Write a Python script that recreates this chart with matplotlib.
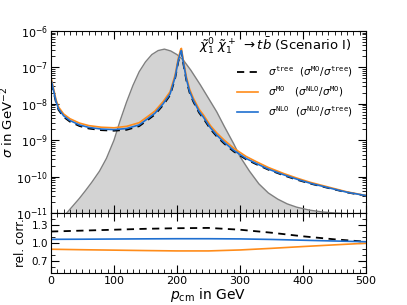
import numpy as np
import matplotlib
matplotlib.use("Agg")
import matplotlib.pyplot as plt
from matplotlib.ticker import MultipleLocator, LogLocator, NullFormatter

# momentum grid for the cross sections (GeV)
p = [1, 4, 8, 12, 20, 30, 45, 60, 80, 100, 120, 140, 155, 165, 178, 189, 197, 202,
     206, 207, 210, 215, 220, 226, 235, 242, 253, 263, 275, 290, 310, 327, 345, 370,
     390, 412, 443, 470, 500]

# log10(sigma / GeV^-2)
log_mo = [-7.35, -7.58, -7.89, -8.09, -8.28, -8.41, -8.53, -8.60, -8.645, -8.66,
          -8.62, -8.52, -8.33, -8.20, -7.94, -7.67, -7.21, -6.75, -6.50, -6.48,
          -6.80, -7.27, -7.60, -7.85, -8.15, -8.31, -8.60, -8.80, -9.00, -9.22,
          -9.45, -9.60, -9.75, -9.92, -10.04, -10.16, -10.30, -10.42, -10.52]
log_nlo = [-7.40, -7.63, -7.94, -8.14, -8.33, -8.46, -8.58, -8.65, -8.695, -8.71,
           -8.68, -8.58, -8.39, -8.26, -8.00, -7.73, -7.27, -6.81, -6.56, -6.54,
           -6.86, -7.33, -7.66, -7.91, -8.21, -8.37, -8.66, -8.86, -9.06, -9.28,
           -9.505, -9.65, -9.795, -9.955, -10.07, -10.185, -10.318, -10.43, -10.522]
log_tree = [-7.43, -7.66, -7.97, -8.17, -8.36, -8.49, -8.61, -8.68, -8.725, -8.74,
            -8.715, -8.615, -8.425, -8.295, -8.035, -7.765, -7.305, -6.845, -6.595, -6.575,
            -6.895, -7.365, -7.695, -7.945, -8.245, -8.405, -8.695, -8.895, -9.095, -9.31,
            -9.53, -9.67, -9.81, -9.97, -10.085, -10.195, -10.325, -10.435, -10.529]

# momentum distribution (grey area)
p_dist = [20, 25, 35, 45, 55, 65, 77, 88, 100, 110, 120, 130, 140, 150, 160, 170, 180,
          190, 200, 210, 222, 237, 250, 263, 275, 290, 300, 315, 330, 345, 360, 375,
          390, 410, 430, 450, 470, 500]
log_dist = [-11.1, -11.0, -10.8, -10.6, -10.38, -10.15, -9.85, -9.5, -9.0, -8.45, -7.95,
            -7.5, -7.12, -6.85, -6.65, -6.54, -6.50, -6.55, -6.65, -6.80, -7.08, -7.48,
            -7.85, -8.22, -8.62, -9.1, -9.45, -9.85, -10.2, -10.45, -10.62, -10.75,
            -10.84, -10.92, -10.97, -11.0, -11.02, -11.03]

# relative corrections
p_rel = [0, 50, 100, 150, 200, 250, 300, 350, 400, 450, 500]
mo_over_tree = [1.19, 1.205, 1.22, 1.235, 1.245, 1.25, 1.22, 1.17, 1.11, 1.06, 1.02]
nlo_over_mo = [0.895, 0.887, 0.88, 0.873, 0.867, 0.867, 0.883, 0.91, 0.94, 0.968, 0.995]
nlo_over_tree = [1.06, 1.062, 1.065, 1.068, 1.07, 1.07, 1.067, 1.058, 1.045, 1.032, 1.02]

orange = '#ff8c1a'
blue = '#1f6fd0'
dash = (0, (4, 3))

fig = plt.figure(figsize=(4.07, 3.05), dpi=100)
ax = fig.add_axes([0.1253, 0.3016, 0.774, 0.597])
ax2 = fig.add_axes([0.1253, 0.105, 0.774, 0.197], sharex=ax)

dist = 10.0 ** np.array(log_dist)
ax.fill_between(p_dist, dist, 1e-12, color='#d3d3d3', lw=0)
ax.plot(p_dist, dist, color='#7f7f7f', lw=1.0)

ax.plot(p, 10.0 ** np.array(log_tree), color='k', ls=dash, lw=1.3,
        label=r'$\sigma^{\mathtt{tree}}$  ($\sigma^{\mathtt{MO}}/\sigma^{\mathtt{tree}}$)')
ax.plot(p, 10.0 ** np.array(log_mo), color=orange, lw=1.2,
        label=r'$\sigma^{\mathtt{MO}}$   ($\sigma^{\mathtt{NLO}}/\sigma^{\mathtt{MO}}$)')
ax.plot(p, 10.0 ** np.array(log_nlo), color=blue, lw=1.2,
        label=r'$\sigma^{\mathtt{NLO}}$  ($\sigma^{\mathtt{NLO}}/\sigma^{\mathtt{tree}}$)')

ax.set_yscale('log')
ax.set_ylim(1e-11, 1e-6)
ax.set_xlim(0, 500)
ax.yaxis.set_major_locator(LogLocator(base=10, numticks=10))
ax.yaxis.set_minor_locator(LogLocator(base=10, subs=np.arange(2, 10), numticks=20))
ax.yaxis.set_minor_formatter(NullFormatter())
ax.xaxis.set_major_locator(MultipleLocator(100))
ax.xaxis.set_minor_locator(MultipleLocator(10))
ax.set_ylabel(r'$\sigma$ in GeV$^{-2}$', fontsize=9.5, labelpad=0)
ax.text(0.955, 0.915, r'$\tilde{\chi}_1^0\;\tilde{\chi}_1^+\;\to t\bar{b}$ (Scenario I)',
        transform=ax.transAxes, ha='right', va='center', fontsize=9.5)
ax.legend(loc='upper right', bbox_to_anchor=(0.99, 0.87), frameon=False, fontsize=7.5,
          handlelength=2.0, labelspacing=0.5, handletextpad=1.0)
plt.setp(ax.get_xticklabels(), visible=False)

ax2.plot(p_rel, mo_over_tree, color='k', ls=dash, lw=1.3)
ax2.plot(p_rel, nlo_over_mo, color=orange, lw=1.2)
ax2.plot(p_rel, nlo_over_tree, color=blue, lw=1.2)
ax2.set_ylim(0.5, 1.5)
ax2.set_yticks([0.7, 1.0, 1.3])
ax2.yaxis.set_minor_locator(MultipleLocator(0.1))
ax2.set_ylabel('rel. corr.', fontsize=8.5, labelpad=3)
ax2.set_xlabel(r'$p_{\rm cm}$ in GeV', fontsize=10, labelpad=0)

for a in (ax, ax2):
    a.tick_params(which='both', direction='in', top=True, right=True, labelsize=8, pad=2)
    a.tick_params(which='major', length=6)
    a.tick_params(which='minor', length=3)
ax2.tick_params(axis='y', labelsize=7.5)

plt.savefig('out.png', dpi=100)
